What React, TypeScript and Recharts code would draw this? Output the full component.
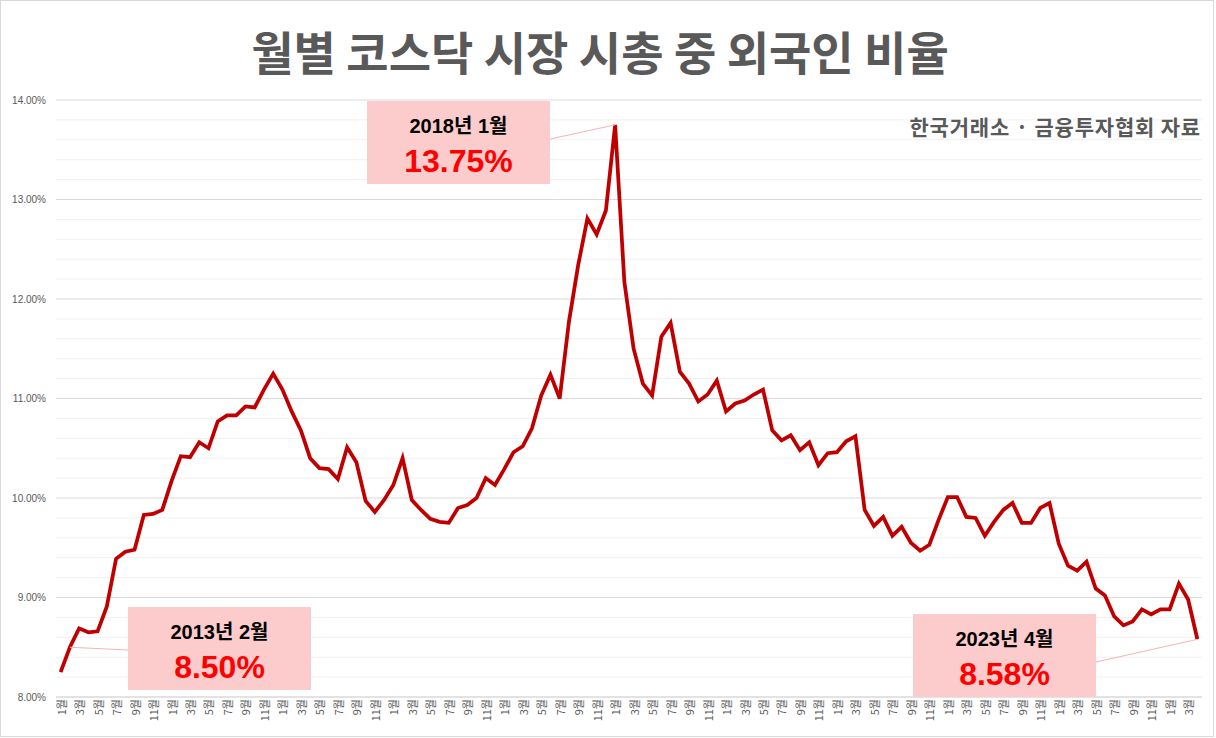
import React from 'react';
import { LineChart, Line, XAxis, YAxis, CartesianGrid, ReferenceLine, ReferenceDot } from 'recharts';

const years = [2013, 2014, 2015, 2016, 2017, 2018, 2019, 2020, 2021, 2022, 2023];
const v2013 = [8.25, 8.50, 8.69, 8.65, 8.66, 8.91, 9.39, 9.46, 9.48, 9.83, 9.84, 9.88];
const v2014 = [10.17, 10.42, 10.41, 10.56, 10.50, 10.77, 10.83, 10.83, 10.92, 10.91, 11.09, 11.25];
const v2015 = [11.09, 10.87, 10.68, 10.40, 10.30, 10.29, 10.19, 10.51, 10.36, 9.97, 9.86, 9.98];
const v2016 = [10.13, 10.40, 9.98, 9.88, 9.79, 9.76, 9.75, 9.90, 9.93, 10.00, 10.20, 10.13];
const v2017 = [10.29, 10.46, 10.52, 10.70, 11.03, 11.24, 11.00, 11.77, 12.34, 12.81, 12.65, 12.89];
const v2018 = [13.75, 12.17, 11.50, 11.15, 11.03, 11.62, 11.76, 11.27, 11.15, 10.97, 11.04, 11.18];
const v2019 = [10.87, 10.95, 10.98, 11.04, 11.09, 10.68, 10.58, 10.63, 10.48, 10.56, 10.33, 10.45];
const v2020 = [10.46, 10.57, 10.62, 9.88, 9.72, 9.81, 9.62, 9.71, 9.55, 9.47, 9.53, 9.78];
const v2021 = [10.01, 10.01, 9.81, 9.80, 9.62, 9.76, 9.88, 9.95, 9.75, 9.75, 9.90, 9.95];
const v2022 = [9.54, 9.32, 9.27, 9.36, 9.09, 9.02, 8.81, 8.72, 8.76, 8.88, 8.83, 8.88];
const v2023 = [8.88, 9.14, 8.98, 8.58];
const yearValues = [v2013, v2014, v2015, v2016, v2017, v2018, v2019, v2020, v2021, v2022, v2023];

const majorTicks = [8, 9, 10, 11, 12, 13, 14];
const minorTicks = [8.2, 8.4, 8.6, 8.8, 9.2, 9.4, 9.6, 9.8, 10.2, 10.4, 10.6, 10.8, 11.2, 11.4, 11.6, 11.8, 12.2, 12.4, 12.6, 12.8, 13.2, 13.4, 13.6, 13.8];

const title = '월별 코스닥 시장 시총 중 외국인 비율';
const source = '한국거래소 · 금융투자협회 자료';

const annotationKeys = ['2013-2', '2018-1', '2023-4'];
const annotationTitles = ['2013년 2월', '2018년 1월', '2023년 4월'];
const annotationValues = ['8.50%', '13.75%', '8.58%'];

// layout of the callout boxes (pixel positions in the chart svg)
const boxLayout = [
  { left: 128, top: 607, anchorY: 650, side: 'left' },
  { left: 367, top: 101, anchorY: 139, side: 'right' },
  { left: 913, top: 614, anchorY: 662, side: 'right' },
];
const BOX_W = 183;
const BOX_H = 83;

const data: { key: string; month: number; value: number }[] = [];
years.forEach((yr, i) => {
  yearValues[i].forEach((v, m) => {
    data.push({ key: `${yr}-${m + 1}`, month: m + 1, value: v });
  });
});

function MonthTick(props: any) {
  const { x, payload } = props;
  const m = String(payload.value).split('-')[1];
  const ty = 699;
  return (
    <text
      x={x}
      y={ty}
      transform={`rotate(-90 ${x} ${ty})`}
      textAnchor="end"
      dominantBaseline="central"
      fontSize={11}
      fill="#595959"
      fontFamily="'Noto Sans CJK KR', 'Liberation Sans', sans-serif"
    >
      {`${m}월`}
    </text>
  );
}

function makeCallout(i: number) {
  return (props: any) => {
    const { cx, cy } = props;
    const b = boxLayout[i];
    const ax = b.side === 'left' ? b.left : b.left + BOX_W;
    return (
      <g>
        <line x1={cx} y1={cy} x2={ax} y2={b.anchorY} stroke="#f4b4b4" strokeWidth={1} />
        <rect x={b.left} y={b.top} width={BOX_W} height={BOX_H} fill="#fccbcb" />
        <text
          x={b.left + BOX_W / 2}
          y={b.top + 25}
          textAnchor="middle"
          dominantBaseline="central"
          fontSize={20}
          fontWeight="bold"
          fill="#000000"
          fontFamily="'Liberation Sans', 'Noto Sans CJK KR', sans-serif"
        >
          {annotationTitles[i]}
        </text>
        <text
          x={b.left + BOX_W / 2}
          y={b.top + 60}
          textAnchor="middle"
          dominantBaseline="central"
          fontSize={32}
          fontWeight="bold"
          fill="#ff0000"
          fontFamily="'Liberation Sans', sans-serif"
        >
          {annotationValues[i]}
        </text>
      </g>
    );
  };
}

export default function App() {
  return (
    <div style={{ position: 'absolute', left: 0, top: 0, width: 1216, height: 738, background: '#ffffff' }}>
      <div
        style={{
          position: 'absolute',
          left: 0,
          top: 0,
          width: 1212,
          height: 735,
          border: '1px solid #d9d9d9',
          boxSizing: 'content-box',
        }}
      />
      <LineChart
        width={1216}
        height={738}
        data={data}
        margin={{ top: 100, right: 14, bottom: 5, left: 0 }}
        style={{ position: 'absolute', left: 0, top: 0 }}
      >
        {minorTicks.map((t) => (
          <ReferenceLine key={t} y={t} stroke="#f0f0f0" strokeWidth={1} />
        ))}
        <CartesianGrid vertical={false} stroke="#d9d9d9" />
        <XAxis
          dataKey="key"
          scale="band"
          interval={1}
          tick={<MonthTick />}
          tickLine={false}
          axisLine={{ stroke: '#d9d9d9' }}
          height={36}
        />
        <YAxis
          domain={[8, 14]}
          ticks={majorTicks}
          tickFormatter={(v: number) => `${v.toFixed(2)}%`}
          axisLine={false}
          tickLine={false}
          width={56}
          tickMargin={4}
          tick={{ fontSize: 10, fill: '#595959', fontFamily: "'Liberation Sans', sans-serif" }}
        />
        <Line
          type="linear"
          dataKey="value"
          stroke="#c00000"
          strokeWidth={3.75}
          dot={false}
          isAnimationActive={false}
        />
        {annotationKeys.map((k, i) => {
          const pt = data.find((d) => d.key === k)!;
          return (
            <ReferenceDot key={k} x={k} y={pt.value} r={0} ifOverflow="visible" shape={makeCallout(i)} />
          );
        })}
      </LineChart>
      <div
        style={{
          position: 'absolute',
          left: 0,
          width: 1200,
          top: 23,
          textAlign: 'center',
          fontSize: 46,
          fontWeight: 'bold',
          color: '#595959',
          fontFamily: "'Noto Sans CJK KR', sans-serif",
          lineHeight: '54px',
          whiteSpace: 'nowrap',
        }}
      >
        {title}
      </div>
      <div
        style={{
          position: 'absolute',
          right: 15,
          top: 111,
          fontSize: 21,
          letterSpacing: 0.8,
          fontWeight: 'bold',
          color: '#595959',
          fontFamily: "'Noto Sans CJK KR', sans-serif",
          lineHeight: '30px',
          whiteSpace: 'nowrap',
        }}
      >
        {source}
      </div>
    </div>
  );
}
